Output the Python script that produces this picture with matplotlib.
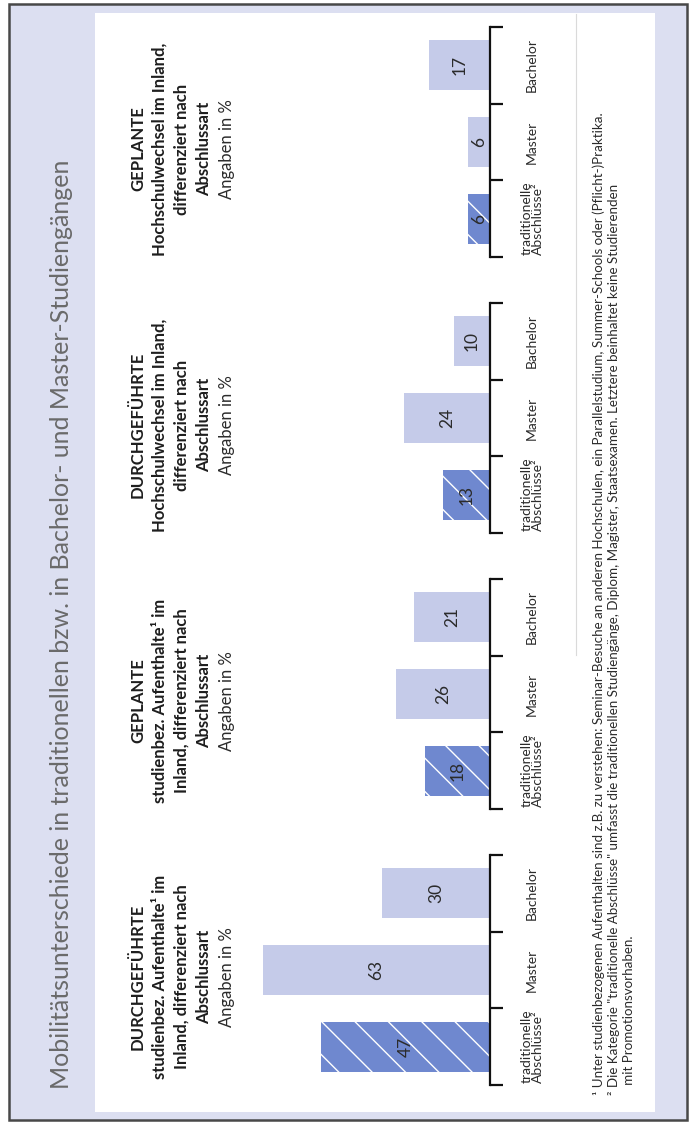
import matplotlib
matplotlib.use("Agg")
import matplotlib.pyplot as plt
import matplotlib.transforms as mtransforms
from matplotlib.patches import Rectangle

plt.rcParams["font.family"] = ["Lato", "DejaVu Sans"]
plt.rcParams["hatch.linewidth"] = 1.0

W, H = 696, 1124

TITLE = "Mobilitätsunterschiede in traditionellen bzw. in Bachelor- und Master-Studiengängen"

# Kategorien von unten (traditionell) nach oben (Bachelor)
CATEGORIES = ["traditionelle\nAbschlüsse²", "Master", "Bachelor"]

# Angaben in %, je Panel in Kategorie-Reihenfolge
DURCHGEF_AUFENTHALTE = [47, 63, 30]
GEPLANT_AUFENTHALTE = [18, 26, 21]
DURCHGEF_WECHSEL = [13, 24, 10]
GEPLANT_WECHSEL = [6, 6, 17]

HEAD_DURCHGEF_AUF = ["DURCHGEFÜHRTE", "studienbez. Aufenthalte¹ im",
                     "Inland, differenziert nach", "Abschlussart"]
HEAD_GEPLANT_AUF = ["GEPLANTE", "studienbez. Aufenthalte¹ im",
                    "Inland, differenziert nach", "Abschlussart"]
HEAD_DURCHGEF_WEC = ["DURCHGEFÜHRTE", "Hochschulwechsel im Inland,",
                     "differenziert nach", "Abschlussart"]
HEAD_GEPLANT_WEC = ["GEPLANTE", "Hochschulwechsel im Inland,",
                    "differenziert nach", "Abschlussart"]
UNIT = "Angaben in %"

FOOTNOTES = [
    "¹ Unter studienbezogenen Aufenthalten sind z.B. zu verstehen: Seminar-Besuche an anderen "
    "Hochschulen, ein Parallelstudium, Summer-Schools oder (Pflicht-)Praktika.",
    "² Die Kategorie \"traditionelle Abschlüsse\" umfasst die traditionellen Studiengänge, "
    "Diplom, Magister, Staatsexamen. Letztere beinhaltet keine Studierenden",
    "   mit Promotionsvorhaben.",
]

LIGHT = "#c5cbe9"
DARK = "#6f88cf"
TEXT = "#2b2b2b"


def px_rect(x0, y0, x1, y1):
    # Pixelkoordinaten (Ursprung oben links) -> Figure-Koordinaten
    return [x0 / W, 1 - y1 / H, (x1 - x0) / W, (y1 - y0) / H]


fig = plt.figure(figsize=(W / 100, H / 100), dpi=100)

bg = fig.add_axes([0, 0, 1, 1])
bg.set_xlim(0, W)
bg.set_ylim(H, 0)
bg.axis("off")

bg.add_patch(Rectangle((9, 4), 678, 1116, facecolor="#dcdff1",
                       edgecolor="#484848", linewidth=1.8))
bg.add_patch(Rectangle((95, 13), 560, 1099, facecolor="white", edgecolor="none"))
bg.plot([576, 576], [14, 655], color="#dadada", linewidth=0.8)

bg.text(62, 624, TITLE, rotation=90, ha="center", va="center",
        fontsize=18, color="#6a6a6a")

for x, line in zip([599, 614, 629], FOOTNOTES):
    bg.text(x, 1095, line, rotation=90, ha="center", va="bottom",
            fontsize=9.6, color=TEXT)

panels = [
    (855, DURCHGEF_AUFENTHALTE, HEAD_DURCHGEF_AUF),
    (579, GEPLANT_AUFENTHALTE, HEAD_GEPLANT_AUF),
    (303, DURCHGEF_WECHSEL, HEAD_DURCHGEF_WEC),
    (27, GEPLANT_WECHSEL, HEAD_GEPLANT_WEC),
]

for top, values, header in panels:
    ax = fig.add_axes(px_rect(220, top, 490, top + 230))
    ax.set_xlim(75, 0)
    ax.set_ylim(-0.5, 2.5)
    ax.patch.set_visible(False)

    bars = ax.barh(range(len(values)), values, height=0.65,
                   color=[DARK, LIGHT, LIGHT], edgecolor="white", linewidth=0)
    bars[0].set_hatch("\\")
    ax.bar_label(bars, labels=[str(v) for v in values], label_type="center",
                 rotation=90, fontsize=12.5, color=TEXT)

    for side in ["top", "bottom", "left"]:
        ax.spines[side].set_visible(False)
    ax.spines["right"].set_linewidth(1.6)
    ax.spines["right"].set_color("#111111")
    ax.set_xticks([])
    ax.yaxis.tick_right()
    ax.set_yticks([-0.5, 0.5, 1.5, 2.5])
    ax.tick_params(axis="y", length=9.5, width=1.6, color="#111111", labelright=False)

    # Kategorienamen rechts neben der Achse
    lab_trans = mtransforms.offset_copy(ax.get_yaxis_transform(), fig=fig, x=42, units="dots")
    for i, cat in enumerate(CATEGORIES):
        ax.text(1, i, cat, transform=lab_trans, rotation=90, ha="center", va="center",
                multialignment="center", fontsize=10, color=TEXT, linespacing=0.9)

    yc = top + 122
    for x, line in zip([138, 160, 182, 204], header):
        bg.text(x, yc, line, rotation=90, ha="center", va="center",
                fontsize=12, fontweight="bold", color="#1e1e1e")
    bg.text(227, yc, UNIT, rotation=90, ha="center", va="center",
            fontsize=12, color=TEXT)

fig.savefig("out.png", dpi=100)
